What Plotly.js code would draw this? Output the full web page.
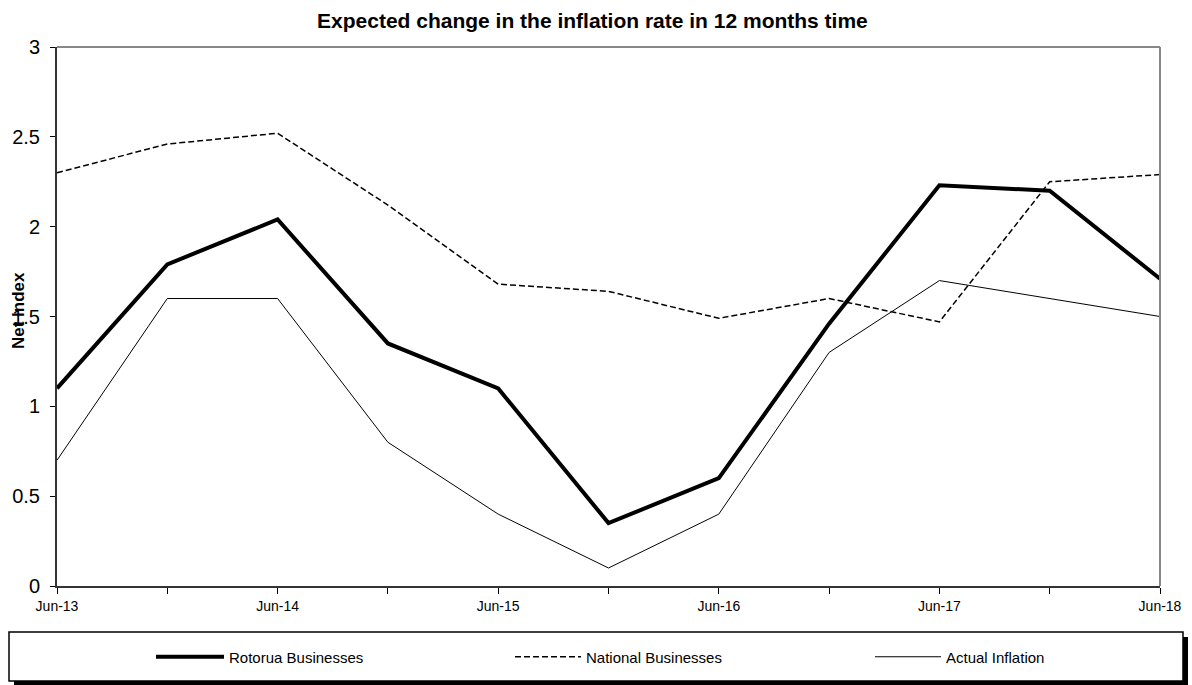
<!DOCTYPE html>
<html>
<head>
<meta charset="utf-8">
<script src="https://cdn.plot.ly/plotly-3.0.1.min.js"></script>
<style>html,body{margin:0;padding:0;background:#fff;}#chart{width:1192px;height:685px;}</style>
</head>
<body>
<div id="chart"></div>
<script>
const periods = ['Jun-13','Dec-13','Jun-14','Dec-14','Jun-15','Dec-15','Jun-16','Dec-16','Jun-17','Dec-17','Jun-18'];
const tickLabels = ['Jun-13','','Jun-14','','Jun-15','','Jun-16','','Jun-17','','Jun-18'];
const rotorua = [1.10, 1.79, 2.04, 1.35, 1.10, 0.35, 0.60, 1.46, 2.23, 2.20, 1.71];
const national = [2.30, 2.46, 2.52, 2.12, 1.68, 1.64, 1.49, 1.60, 1.47, 2.25, 2.29];
const actual = [0.70, 1.60, 1.60, 0.80, 0.40, 0.10, 0.40, 1.30, 1.70, 1.60, 1.50];
const yTicks = [0, 0.5, 1, 1.5, 2, 2.5, 3];
const yTickLabels = ['0', '0.5', '1', '1.5', '2', '2.5', '3'];

const FONT = '"Liberation Sans", Arial, sans-serif';
const W = 1192, H = 685, L = 57, R = 1160, T = 47, B = 586;
const px = x => (x - L) / (R - L);
const py = y => (B - y) / (B - T);

const traces = [
  {x: periods, y: rotorua, name: 'Rotorua Businesses', type: 'scatter', mode: 'lines',
   line: {color: '#000', width: 4}, legend: 'legend'},
  {x: periods, y: national, name: 'National Businesses', type: 'scatter', mode: 'lines',
   line: {color: '#000', width: 1.5, dash: '6px,3px'}, legend: 'legend2'},
  {x: periods, y: actual, name: 'Actual Inflation', type: 'scatter', mode: 'lines',
   line: {color: '#000', width: 1}, legend: 'legend3'}
];

function legendAt(xPix, itemW) {
  return {orientation: 'h', x: px(xPix), xanchor: 'left', y: py(657), yanchor: 'middle',
    bgcolor: 'rgba(0,0,0,0)', itemwidth: itemW,
    font: {family: FONT, size: 15, color: '#000'}};
}

const layout = {
  width: W, height: H,
  margin: {l: L, r: W - R, t: T, b: H - B, pad: 0, autoexpand: false},
  paper_bgcolor: '#fff', plot_bgcolor: '#fff',
  font: {family: FONT, color: '#000'},
  title: {text: 'Expected change in the inflation rate in 12 months time',
    font: {family: FONT, size: 21, weight: 'bold', color: '#000'},
    x: 0.497, xref: 'container', xanchor: 'center', y: 1 - 21 / H, yanchor: 'middle'},
  showlegend: true,
  legend: legendAt(151, 68),
  legend2: legendAt(510, 66),
  legend3: legendAt(870, 66),
  xaxis: {type: 'category', range: [0, periods.length - 1], tickmode: 'array',
    tickvals: periods, ticktext: tickLabels, ticks: 'outside', ticklen: 6, tickcolor: '#000',
    showgrid: false, zeroline: false, showline: true, linecolor: '#333', linewidth: 2,
    tickfont: {family: FONT, size: 14, color: '#000'}, tickangle: 0, fixedrange: true},
  yaxis: {range: [0, 3], tickmode: 'array', tickvals: yTicks, ticktext: yTickLabels,
    ticks: 'outside', ticklen: 5, tickcolor: '#000', showgrid: false, zeroline: false,
    showline: true, linecolor: '#333', linewidth: 2, ticklabelstandoff: 6,
    tickfont: {family: FONT, size: 20, color: '#000'}, fixedrange: true},
  shapes: [
    {type: 'line', xref: 'paper', yref: 'paper', x0: 0, x1: 1, y0: 1, y1: 1, line: {color: '#888', width: 2}},
    {type: 'line', xref: 'paper', yref: 'paper', x0: 1, x1: 1, y0: 0, y1: 1, line: {color: '#888', width: 2}},
    {type: 'rect', xref: 'paper', yref: 'paper', x0: px(14), x1: px(1188), y0: py(637), y1: py(686),
     fillcolor: '#000', line: {width: 0}, layer: 'below'},
    {type: 'rect', xref: 'paper', yref: 'paper', x0: px(9), x1: px(1183), y0: py(632), y1: py(681),
     fillcolor: '#fff', line: {color: '#000', width: 1.5}, layer: 'below'}
  ],
  annotations: [
    {text: 'Net Index', xref: 'paper', yref: 'paper', x: px(18), y: py(310), textangle: -90,
     showarrow: false, xanchor: 'center', yanchor: 'middle',
     font: {family: FONT, size: 17, weight: 'bold', color: '#000'}}
  ]
};

Plotly.newPlot('chart', traces, layout, {displayModeBar: false, staticPlot: true});
</script>
</body>
</html>
